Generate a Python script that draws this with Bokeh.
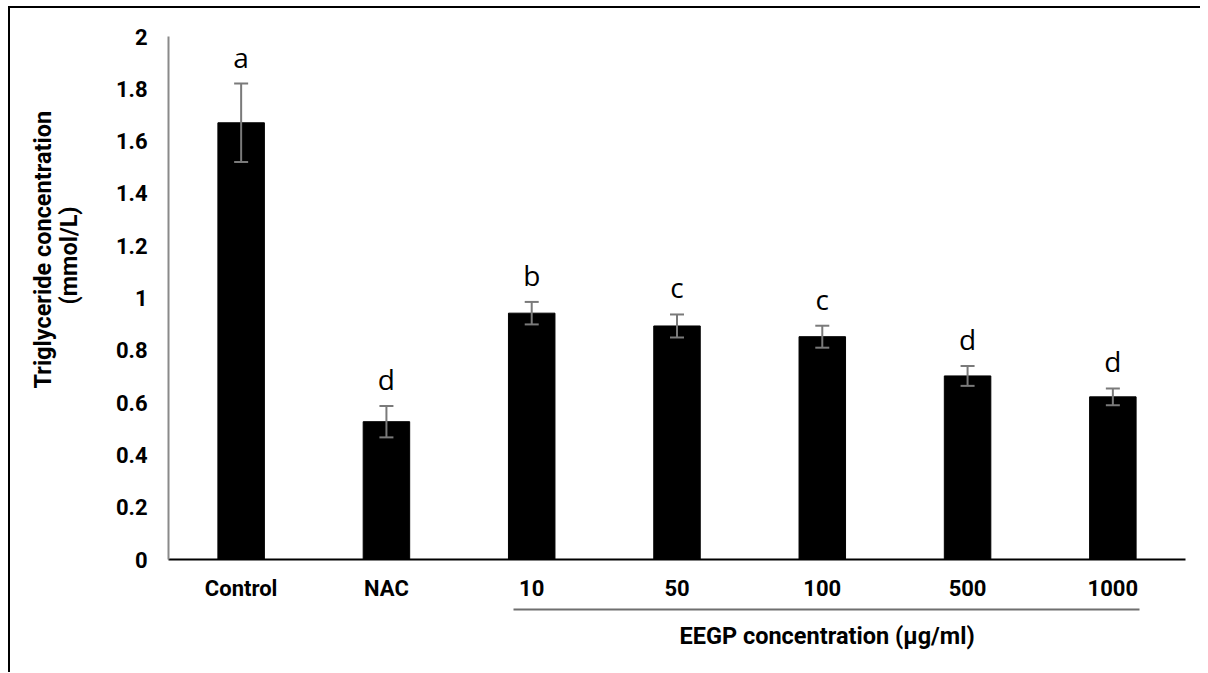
from bokeh.plotting import figure
from bokeh.models import (FactorRange, Range1d, LinearAxis, CategoricalAxis, FixedTicker, Whisker,
                          TeeHead, ColumnDataSource, Title)
from bokeh.core.properties import value
from bokeh.embed import file_html
from bokeh.resources import INLINE

# ---- data ----
categories = ["Control", "NAC", "10", "50", "100", "500", "1000"]
means = [1.67, 0.527, 0.942, 0.893, 0.852, 0.702, 0.622]
errors = [0.15, 0.06, 0.043, 0.044, 0.042, 0.038, 0.032]
letters = ["a", "d", "b", "c", "c", "d", "d"]
y_ticks = [0, 0.2, 0.4, 0.6, 0.8, 1.0, 1.2, 1.4, 1.6, 1.8, 2.0]
y_tick_labels = ["0", "0.2", "0.4", "0.6", "0.8", "1", "1.2", "1.4", "1.6", "1.8", "2"]
y_title_lines = ["Triglyceride concentration", "(mmol/L)"]
group_title = "EEGP concentration (µg/ml)"

src = ColumnDataSource(dict(
    x=categories,
    mean=means,
    upper=[m + e for m, e in zip(means, errors)],
    lower=[m - e for m, e in zip(means, errors)],
    letter=letters,
))

FONT = "Roboto"

p = figure(x_range=FactorRange(*categories), y_range=Range1d(0, 2),
           width=1190, height=664, output_backend="svg", toolbar_location=None,
           min_border_left=158, min_border_right=17, min_border_top=28,
           min_border_bottom=115, outline_line_color=None, background_fill_color="white")
p.styles = {"border-top": "2px solid black", "border-left": "2px solid black",
            "box-sizing": "content-box",
            "position": "relative", "left": "8px", "top": "6px"}
p.grid.visible = False

# bars
p.vbar(x="x", top="mean", width=0.32, source=src, fill_color="black", line_color="black")

# error bars
err_col = "#7a7a7a"
wh = Whisker(source=src, base="x", upper="upper", lower="lower", line_color=err_col,
             line_width=2, level="overlay",
             upper_head=TeeHead(size=14, line_color=err_col, line_width=2),
             lower_head=TeeHead(size=14, line_color=err_col, line_width=2))
p.add_layout(wh)

# significance letters
p.text(x="x", y="upper", text="letter", source=src, text_align="center",
       text_baseline="alphabetic", y_offset=-27, text_font=value("Open Sans"),
       text_font_size="28px", text_color="black")

# y axis
ya = p.yaxis[0]
ya.ticker = FixedTicker(ticks=y_ticks)
ya.major_label_overrides = {t: l for t, l in zip(y_ticks, y_tick_labels)}
ya.axis_line_color = "#8a8a8a"
ya.axis_line_width = 2
ya.major_tick_line_color = None
ya.minor_tick_line_color = None
ya.major_label_standoff = 15
ya.major_label_text_font = FONT
ya.major_label_text_font_style = "bold"
ya.major_label_text_font_size = "22px"
ya.major_label_text_color = "black"

# x axis
xa = p.xaxis[0]
xa.axis_line_color = "black"
xa.axis_line_width = 2
xa.major_tick_line_color = None
xa.minor_tick_line_color = None
xa.major_label_standoff = 10
xa.major_label_text_font = FONT
xa.major_label_text_font_style = "bold"
xa.major_label_text_font_size = "22px"
xa.major_label_text_color = "black"
xa.axis_label = " "
xa.axis_label_standoff = 0
xa.axis_label_text_font_size = "3px"

# group axis (line under EEGP concentrations); bounds in the range's synthetic coordinates
gax = CategoricalAxis(bounds=(2.372, 6.683),
                      axis_line_color="#6f6f6f", axis_line_width=2,
                      major_tick_line_color=None, minor_tick_line_color=None,
                      major_label_text_font_size="0px", major_label_text_color=None,
                      major_label_standoff=0)
p.add_layout(gax, "below")

# group title
p.add_layout(Title(text=group_title, align="left", offset=511, standoff=9,
                   text_font=FONT, text_font_style="bold", text_font_size="23.5px",
                   text_color="black"), "below")

# spacer between the tick labels and the y title
sp = LinearAxis(ticker=FixedTicker(ticks=[]), axis_line_color=None,
                major_tick_line_color=None, minor_tick_line_color=None,
                major_label_text_font_size="0px", axis_label=" ",
                axis_label_standoff=25, axis_label_text_font_size="2px")
p.add_layout(sp, "left")

# y title (two lines): inner line first
for txt, off, st in zip(reversed(y_title_lines), [255, 171], [0, -8]):
    p.add_layout(Title(text=txt, align="left", offset=off, standoff=st,
                       text_font=FONT, text_font_style="bold", text_font_size="23.5px",
                       text_color="black"), "left")

open("out.html", "w").write(file_html(p, INLINE))
